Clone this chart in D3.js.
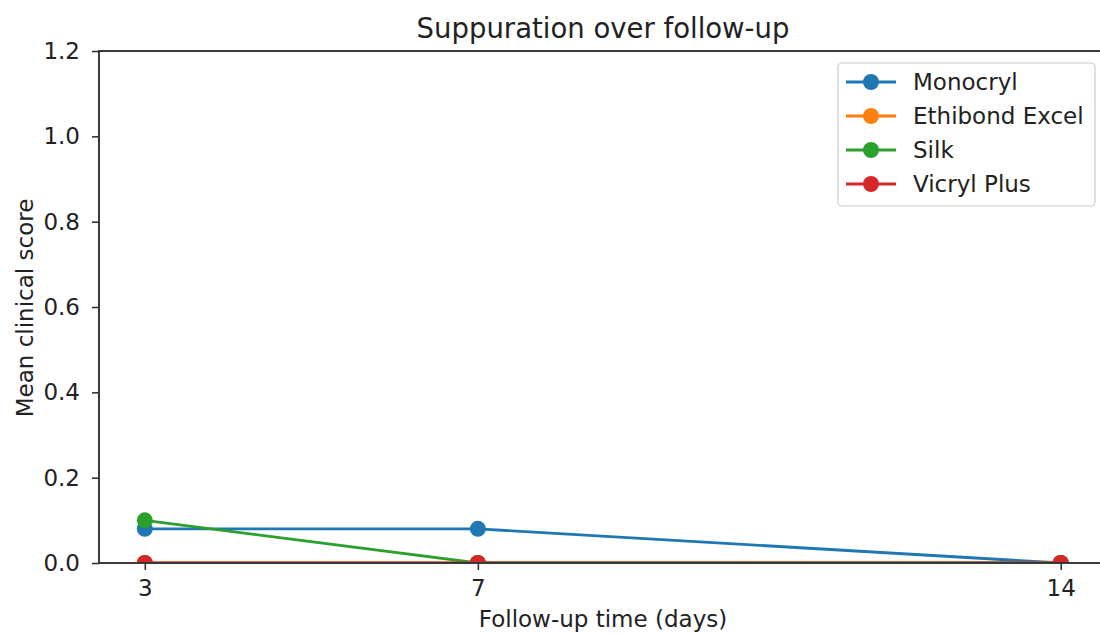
<!DOCTYPE html>
<html><head><meta charset="utf-8">
<script src="https://cdn.jsdelivr.net/npm/d3@7"></script>
<style>body{margin:0;background:#fff;} text{font-family:"DejaVu Sans",sans-serif;fill:#222;}</style>
</head><body>
<svg id="c" width="1100" height="634"></svg>
<script>
const days = [3, 7, 14];
const seriesNames = ["Monocryl", "Ethibond Excel", "Silk", "Vicryl Plus"];
const monocryl = [0.08, 0.08, 0];
const ethibond = [0, 0, 0];
const silk = [0.1, 0, 0];
const vicryl = [0, 0, 0];
const colors = ["#1f77b4", "#ff7f0e", "#2ca02c", "#d62728"];
const yTicks = [0, 0.2, 0.4, 0.6, 0.8, 1.0, 1.2];
const seriesValues = [monocryl, ethibond, silk, vicryl];

const svg = d3.select("#c");
const L = 99, R = 1106.5, T = 51, B = 563;
const x = d3.scaleLinear().domain([2.45, 14.55]).range([L, R]);
const y = d3.scaleLinear().domain([0, 1.2]).range([B, T]);

svg.append("defs").append("clipPath").attr("id","clip")
  .append("rect").attr("x",L).attr("y",T).attr("width",R-L).attr("height",B-T);

const g = svg.append("g").attr("clip-path","url(#clip)");
const line = d3.line().x((d,i)=>x(days[i])).y(d=>y(d));
seriesValues.forEach((vals, k) => {
  g.append("path").datum(vals).attr("d", line).attr("fill","none")
    .attr("stroke", colors[k]).attr("stroke-width", 2.8);
  g.selectAll(null).data(vals).enter().append("circle")
    .attr("cx",(d,i)=>x(days[i])).attr("cy",d=>y(d)).attr("r",8)
    .attr("fill", colors[k]);
});

// axes
const xAxis = d3.axisBottom(x).tickValues(days).tickSize(7).tickPadding(10).tickFormat(d3.format("d"));
const yAxis = d3.axisLeft(y).tickValues(yTicks).tickSize(7).tickPadding(12).tickFormat(d3.format(".1f"));
const gx = svg.append("g").attr("transform",`translate(0,${B})`).call(xAxis);
const gy = svg.append("g").attr("transform",`translate(${L},0)`).call(yAxis);
[gx, gy].forEach(a => {
  a.select(".domain").remove();
  a.selectAll("line").attr("stroke","#333").attr("stroke-width",1.6);
  a.selectAll("text").style("font-family","DejaVu Sans").style("font-size","23px").attr("fill","#222");
});
// spines
svg.append("rect").attr("x",L).attr("y",T).attr("width",R-L).attr("height",B-T)
  .attr("fill","none").attr("stroke","#333").attr("stroke-width",1.9);

svg.append("text").attr("x",603).attr("y",38).attr("text-anchor","middle")
  .style("font-size","27.5px").text("Suppuration over follow-up");
svg.append("text").attr("x",603).attr("y",627).attr("text-anchor","middle")
  .style("font-size","23px").text("Follow-up time (days)");
svg.append("text").attr("transform","translate(33,308) rotate(-90)").attr("text-anchor","middle")
  .style("font-size","23px").text("Mean clinical score");

// legend
const lg = svg.append("g");
lg.append("rect").attr("x",838).attr("y",63).attr("width",257).attr("height",143).attr("rx",4)
  .attr("fill","#fff").attr("fill-opacity",0.8).attr("stroke","#ccc").attr("stroke-width",1.2);
seriesNames.forEach((n,k) => {
  const yy = 82 + k*34;
  lg.append("line").attr("x1",846).attr("x2",896).attr("y1",yy).attr("y2",yy)
    .attr("stroke",colors[k]).attr("stroke-width",2.8);
  lg.append("circle").attr("cx",871).attr("cy",yy).attr("r",8).attr("fill",colors[k]);
  lg.append("text").attr("x",913).attr("y",yy+8).style("font-size","23px").text(n);
});
</script>
</body></html>
